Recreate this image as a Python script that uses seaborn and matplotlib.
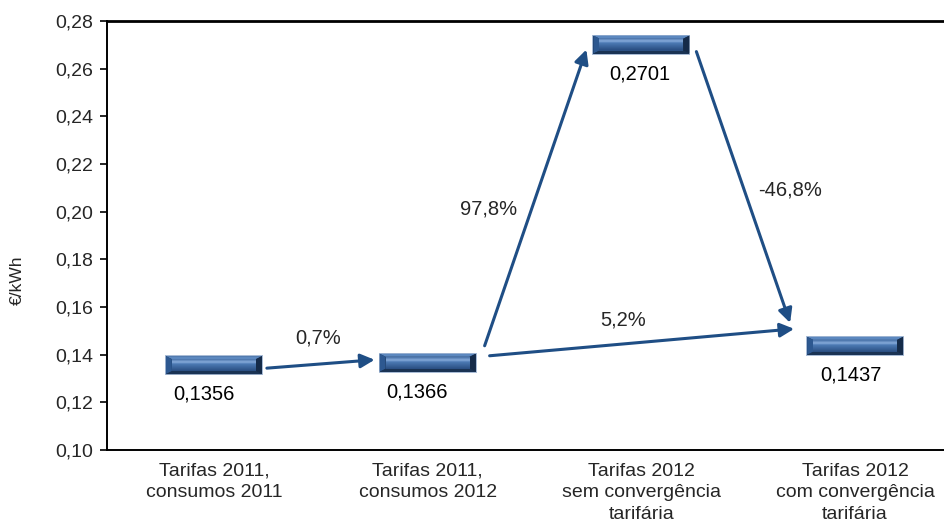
import numpy as np
import pandas as pd
import matplotlib
matplotlib.use("Agg")
import matplotlib.pyplot as plt
from matplotlib.path import Path
from matplotlib.markers import MarkerStyle
from matplotlib.transforms import offset_copy
from matplotlib.ticker import FuncFormatter
from matplotlib.colors import to_rgb
import seaborn as sns

# ---- data -------------------------------------------------------------
categories = [
    "Tarifas 2011,\nconsumos 2011",
    "Tarifas 2011,\nconsumos 2012",
    "Tarifas 2012\nsem convergência\ntarifária",
    "Tarifas 2012\ncom convergência\ntarifária",
]
values = [0.1356, 0.1366, 0.2701, 0.1437]

# transitions between scenarios (from index, to index) and their change in %
transitions_from = [0, 1, 2, 1]
transitions_to = [1, 2, 3, 3]
changes_pct = [0.7, 97.8, -46.8, 5.2]

y_ticks = [0.10, 0.12, 0.14, 0.16, 0.18, 0.20, 0.22, 0.24, 0.26, 0.28]

# ---- style ------------------------------------------------------------
sns.set_style("ticks")
plt.rcParams["font.family"] = ["Liberation Sans", "DejaVu Sans"]
FS = 14
FS_IN = 14.5
ARROW = "#1F4E85"

fig = plt.figure(figsize=(9.44, 5.25), dpi=100)
ax = fig.add_axes([107 / 944, 75 / 525, 855 / 944, 429 / 525])

df = pd.DataFrame({"pos": np.arange(len(categories)), "value": values})


def dec(v, nd):
    return f"{v:.{nd}f}".replace(".", ",")


# ---- bevelled bar markers, built as stacked scatter layers -------------
def poly_marker(verts):
    verts = np.asarray(verts, float)
    codes = [Path.MOVETO] + [Path.LINETO] * (len(verts) - 1) + [Path.CLOSEPOLY]
    path = Path(np.vstack([verts, verts[:1]]), codes)
    rescale = np.max(np.abs(verts))
    size = (2 * rescale * 72 / 100) ** 2   # keeps 1 unit == 1 pixel
    return MarkerStyle(path), size


def layer(verts, color, z):
    m, s = poly_marker(verts)
    sns.scatterplot(data=df, x="pos", y="value", marker=m, s=s, color=color,
                    linewidth=0, edgecolor="none", ax=ax, zorder=z, legend=False)


HW, HH = 49, 10       # half width / height in px
BX, BY = 6, 3         # bevel sizes
iw, ih = HW - 1 - BX, HH - 1 - BY

layer([(-HW, -HH), (HW, -HH), (HW, HH), (-HW, HH)], "#A9BCD6", 3)
ow, oh = HW - 1, HH - 1
layer([(-ow, -oh), (ow, -oh), (ow, oh), (-ow, oh)], "#1B3456", 3.1)
# top bevel
layer([(-ow, oh), (ow, oh), (iw, ih), (-iw, ih)], "#5C88BF", 3.2)
# left bevel
layer([(-ow, oh), (-iw, ih), (-iw, -ih), (-ow, -oh)], "#2D5890", 3.2)
# right bevel
layer([(ow, oh), (iw, ih), (iw, -ih), (ow, -oh)], "#152B49", 3.2)
# bottom bevel
layer([(-ow, -oh), (ow, -oh), (iw, -ih), (-iw, -ih)], "#1A3354", 3.2)

# face gradient: medium blue, light streak above centre, darker below
stops_y = [ih, 3.0, 1.0, -ih]
stops_c = ["#456FA6", "#86AADA", "#4B79B3", "#284D80"]
stops_rgb = np.array([to_rgb(c) for c in stops_c])
n_bands = 2 * ih
for k in range(n_bands):
    y1 = ih - k
    y0 = y1 - 1
    yc = (y0 + y1) / 2
    rgb = [np.interp(-yc, -np.array(stops_y), stops_rgb[:, j]) for j in range(3)]
    layer([(-iw, y0 - 0.15), (iw, y0 - 0.15), (iw, y1 + 0.15), (-iw, y1 + 0.15)],
          tuple(rgb), 3.3 + k * 0.001)

# ---- value labels under the bars ---------------------------------------
label_dx = [-10, -11, -2, -4]
for i, v in enumerate(values):
    ax.annotate(dec(v, 4), xy=(i, v), xytext=(label_dx[i], -29),
                textcoords="offset pixels", ha="center", va="center",
                fontsize=FS_IN, color="black")

# ---- arrows between scenarios -----------------------------------------
start_off = [(53, -3), (57, 17), (55, -7), (62, 7)]
end_off = [(-53, 3), (-55, -5), (-65, 23), (-61, 17)]
for a, b, so, eo in zip(transitions_from, transitions_to, start_off, end_off):
    t_start = offset_copy(ax.transData, fig=fig, x=so[0], y=so[1], units="dots")
    t_end = offset_copy(ax.transData, fig=fig, x=eo[0], y=eo[1], units="dots")
    ax.annotate("", xy=(b, values[b]), xycoords=t_end,
                xytext=(a, values[a]), textcoords=t_start,
                arrowprops=dict(arrowstyle="-|>", color=ARROW, lw=2.2,
                                mutation_scale=21, shrinkA=0, shrinkB=0),
                zorder=2)

# change labels
pct_pos = [(0.488, 0.1470), (1.283, 0.2011), (2.696, 0.2091), (1.915, 0.1545)]
for (px, py), c in zip(pct_pos, changes_pct):
    ax.text(px, py, dec(c, 1) + "%", ha="center", va="center", fontsize=FS_IN)

# ---- axes ---------------------------------------------------------------
ax.set_xlim(-0.5, 3.5)
ax.set_ylim(y_ticks[0], y_ticks[-1])
ax.set_yticks(y_ticks)
ax.yaxis.set_major_formatter(FuncFormatter(lambda v, _: dec(v, 2)))
ax.set_xticks(np.arange(len(categories)))
ax.set_xticklabels(categories, fontsize=FS, linespacing=1.35, va="top")
ax.tick_params(axis="x", length=0, pad=9)
ax.tick_params(axis="y", length=5, width=1.2, direction="out", labelsize=FS,
               pad=5, color="black")
ax.set_xlabel("")
ax.set_ylabel("€/kWh", fontsize=12.5)
ax.yaxis.set_label_coords(-0.096, 0.396)

for side in ("left", "bottom", "top"):
    ax.spines[side].set_visible(True)
    ax.spines[side].set_color("black")
    ax.spines[side].set_linewidth(1.4)
ax.spines["top"].set_linewidth(2.0)
ax.spines["right"].set_visible(False)

fig.savefig("out.png", dpi=100)
